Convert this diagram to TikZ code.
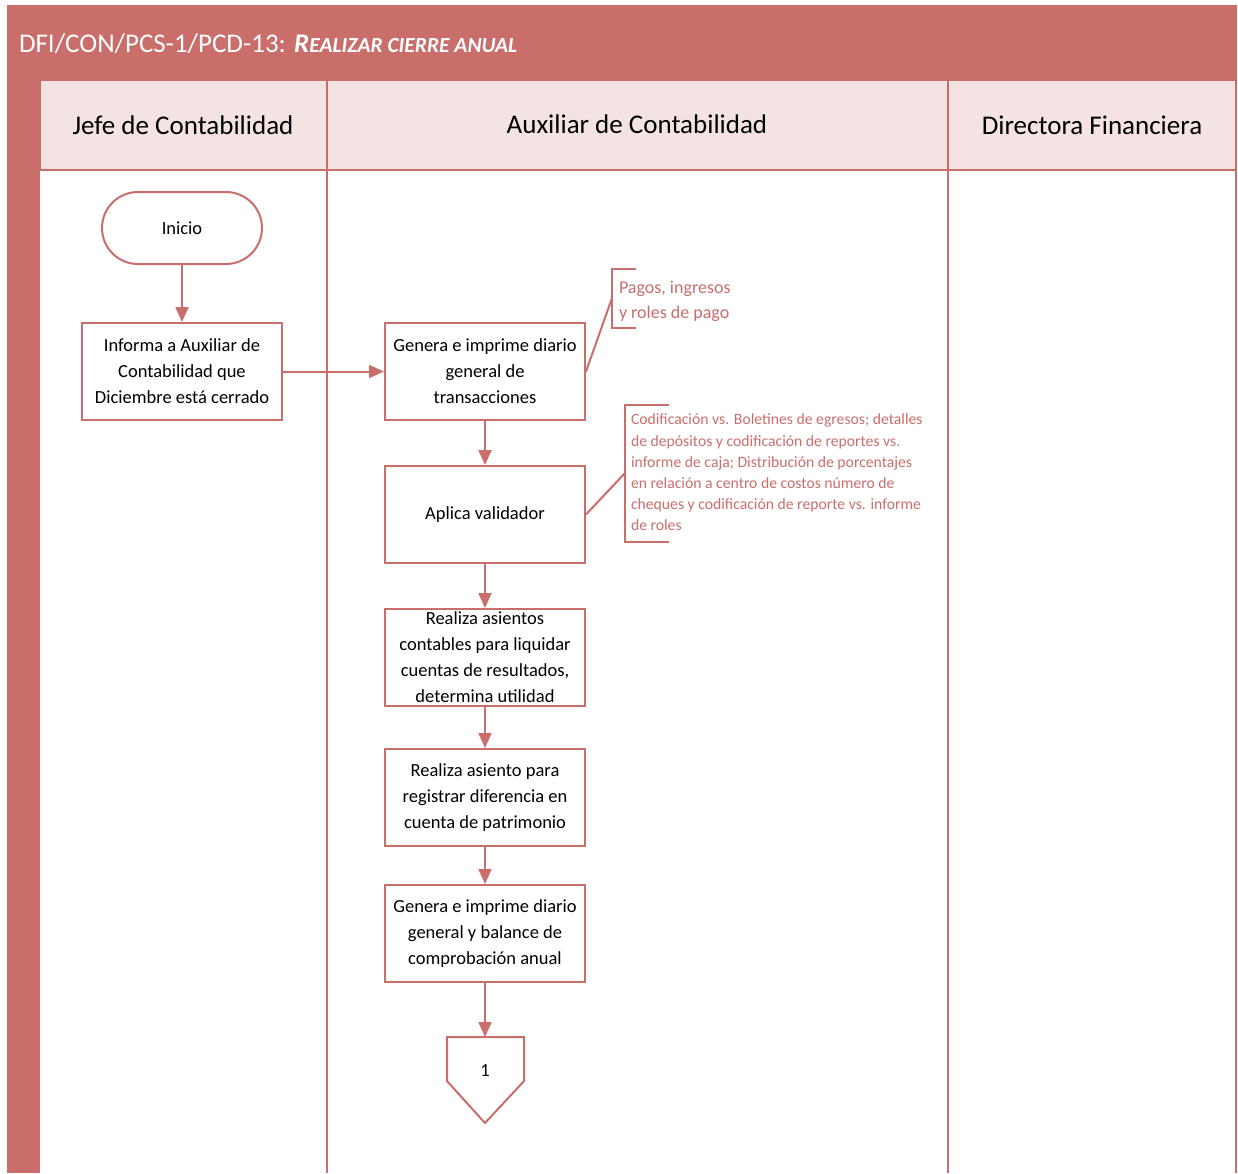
\documentclass[tikz,border=0pt]{standalone}
\usepackage{fontspec}
\setmainfont{Carlito}
\usetikzlibrary{arrows.meta}
\definecolor{lane}{HTML}{C96E6B}
\definecolor{headfill}{HTML}{F4E3E3}
\begin{document}
\begin{tikzpicture}[x=1pt,y=-1pt,line width=2pt,
  procbox/.style={draw=lane,fill=white,minimum width=200,minimum height=97,
    align=center,inner sep=0pt,font=\fontsize{18.5}{26}\selectfont},
  termbox/.style={draw=lane,fill=white,minimum width=160,minimum height=72,
    rounded corners=36,align=center,font=\fontsize{18.5}{26}\selectfont},
  flow/.style={draw=lane,-{Triangle[length=15pt,width=13pt]}},
  lanetitle/.style={font=\fontsize{27}{30}\selectfont},
  notetext/.style={text=lane,anchor=north west,align=left,inner sep=0pt}]
\useasboundingbox (0,0) rectangle (1238,1173);
% outer frame, title band and left strip
\fill[lane] (7,5) rectangle (1236,80);
\fill[lane] (7,80) rectangle (40,1173);
\draw[lane] (1236,5) -- (1236,1173);
\node[anchor=base west,text=white,inner sep=0pt,font=\fontsize{27}{30}\selectfont] (title) at (18,52)
  {DFI/CON/PCS-1/PCD-13: \textbf{\textit{R{\fontsize{21.5}{26}\selectfont EALIZAR CIERRE ANUAL}}}};
% lane headers
\filldraw[fill=headfill,draw=lane] (40,80) rectangle (1236,170);
\draw[lane] (327,80) -- (327,1173);
\draw[lane] (948,80) -- (948,1173);
\node[lanetitle] (h1) at (183,125) {Jefe de Contabilidad};
\node[lanetitle] (h2) at (637,124) {Auxiliar de Contabilidad};
\node[lanetitle] (h3) at (1092,125) {Directora Financiera};
% flow nodes
\node[termbox] (inicio) at (182,228) {Inicio};
\node[procbox] (informa) at (182,371.5) {Informa a Auxiliar de\\Contabilidad que\\Diciembre está cerrado};
\node[procbox] (genera1) at (485,371.5) {Genera e imprime diario\\general de\\transacciones};
\node[procbox] (aplica) at (485,514.5) {Aplica validador};
\node[procbox] (asientos) at (485,657.5) {Realiza asientos\\contables para liquidar\\cuentas de resultados,\\determina utilidad};
\node[procbox] (patrim) at (485,797.5) {Realiza asiento para\\registrar diferencia en\\cuenta de patrimonio};
\node[procbox] (genera2) at (485,933.5) {Genera e imprime diario\\general y balance de\\comprobación anual};
% off-page connector
\coordinate (conn) at (485,1037);
\draw[lane,fill=white,line join=miter] (447,1037) -- (524,1037) -- (524,1081) -- (485,1123) -- (447,1081) -- cycle;
\node[font=\fontsize{18.5}{22}\selectfont] (one) at (485,1071) {1};
% connectors
\draw[flow] (inicio) -- (informa);
\draw[flow] (informa) -- (genera1);
\draw[flow] (genera1) -- (aplica);
\draw[flow] (aplica) -- (asientos);
\draw[flow] (asientos) -- (patrim);
\draw[flow] (patrim) -- (genera2);
\draw[flow] (genera2) -- (conn);
% annotations
\coordinate (n1) at (612,298);
\draw[lane] (636,269) -- (612,269) -- (612,328) -- (636,328);
\draw[lane] (genera1.east) -- (n1);
\node[notetext,font=\fontsize{18}{25}\selectfont] (note1) at (618,280) {Pagos, ingresos\\y roles de pago};
\coordinate (n2) at (625,473);
\draw[lane] (669,405) -- (625,405) -- (625,542) -- (669,542);
\draw[lane] (aplica.east) -- (n2);
\node[notetext,font=\fontsize{15.7}{21.2}\selectfont] (note2) at (630,413)
  {Codificación vs. Boletines de egresos; detalles\\de depósitos y codificación de reportes vs.\\informe de caja; Distribución de porcentajes\\en relación a centro de costos número de\\cheques y codificación de reporte vs. informe\\de roles};
\end{tikzpicture}
\end{document}
